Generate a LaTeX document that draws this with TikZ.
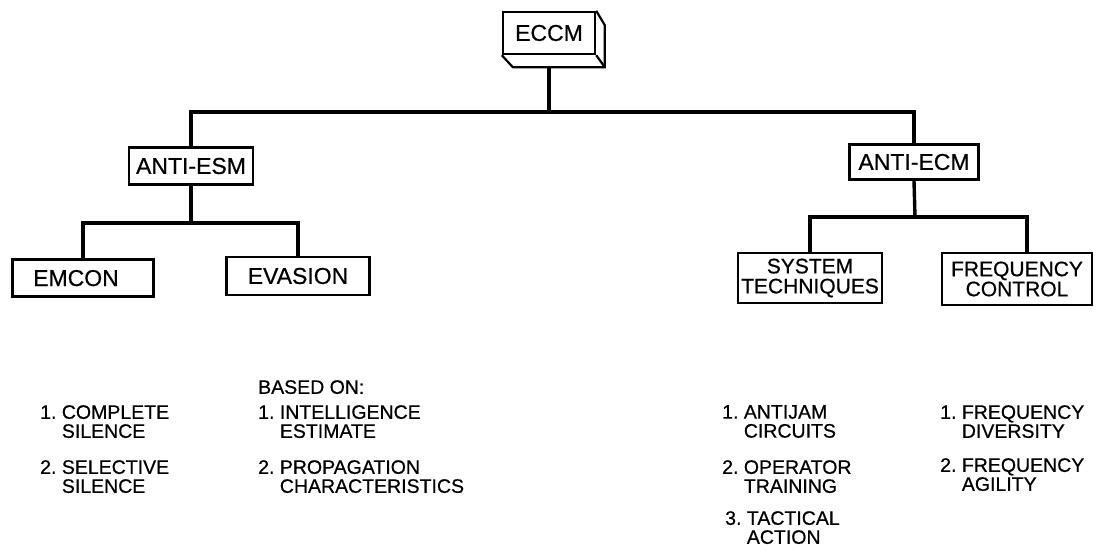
\documentclass[tikz,border=0pt]{standalone}
\usepackage{fontspec}
\setmainfont{Liberation Sans}[FakeBold=0.6]
\begin{document}
\begin{tikzpicture}[x=1pt,y=-1pt,
  box/.style={draw,line width=2.4pt,inner sep=0pt,font=\fontsize{23}{23}\selectfont},
  boxtwo/.style={box,align=center,font=\fontsize{21}{20}\selectfont},
  conn/.style={line width=3.4pt},
  item/.style={anchor=north west,inner sep=0pt,align=left,font=\fontsize{19.5}{19}\selectfont}]
\useasboundingbox (0,0) rectangle (1100,551);
% ECCM 3-D box
\node[box,minimum width=92pt,minimum height=42pt] (eccm) at (549,33) {ECCM};
\draw[line width=2.2pt] (eccm.south west) -- ++(11,12) coordinate (bl) -- ++(92,0) coordinate (br) -- ++(0,-42) -- (eccm.north east);
\draw[line width=2.2pt] (eccm.south east) -- (br);
\coordinate (eccmb) at (eccm.south |- bl);
% level 1
\node[box,minimum width=124pt,minimum height=37pt] (antiesm) at (191,166) {ANTI-ESM};
\node[box,minimum width=129pt,minimum height=35pt] (antiecm) at (914,162) {ANTI-ECM};
% level 2
\node[box,minimum width=141pt,minimum height=37pt,text depth=0pt] (emcon) at (83,278) {\hspace*{-14pt}EMCON};
\node[box,minimum width=143pt,minimum height=38pt] (evasion) at (298,276) {EVASION};
\node[boxtwo,minimum width=144pt,minimum height=50pt] (systech) at (810,278) {SYSTEM\\TECHNIQUES};
\node[boxtwo,minimum width=150pt,minimum height=52pt] (freqctl) at (1017,279) {FREQUENCY\\CONTROL};
% connectors
\coordinate (bus1) at (549,112);
\coordinate (bus2) at (191,223);
\coordinate (bus3) at (915,217);
\draw[conn] (eccmb) -- (bus1);
\draw[conn] (antiesm.north) |- (bus1) -| (antiecm.north);
\draw[conn] (antiesm.south) -- (bus2);
\draw[conn] (emcon.north) |- (bus2) -| (evasion.north);
\draw[conn] (antiecm.south) -- (bus3);
\draw[conn] (systech.north) |- (bus3) -| ([xshift=10pt]freqctl.north);
% lists
\node[item] (l1) at (40,405) {1.~COMPLETE\\\hphantom{1.~}SILENCE};
\node[item] (l2) at (40,460) {2.~SELECTIVE\\\hphantom{2.~}SILENCE};
\node[item] (m0) at (258,380) {BASED ON:};
\node[item] (m1) at (258,405) {1.~INTELLIGENCE\\\hphantom{1.~}ESTIMATE};
\node[item] (m2) at (258,460) {2.~PROPAGATION\\\hphantom{2.~}CHARACTERISTICS};
\node[item] (r1) at (722,405) {1.~ANTIJAM\\\hphantom{1.~}CIRCUITS};
\node[item] (r2) at (722,460) {2.~OPERATOR\\\hphantom{2.~}TRAINING};
\node[item] (r3) at (725,511) {3.~TACTICAL\\\hphantom{3.~}ACTION};
\node[item] (f1) at (940,405) {1.~FREQUENCY\\\hphantom{1.~}DIVERSITY};
\node[item] (f2) at (940,458) {2.~FREQUENCY\\\hphantom{2.~}AGILITY};
\end{tikzpicture}
\end{document}
